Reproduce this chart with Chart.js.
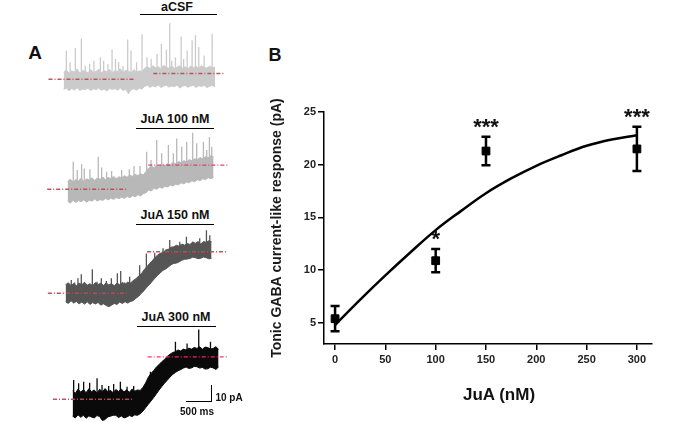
<!DOCTYPE html>
<html>
<head>
<meta charset="utf-8">
<script src="https://cdn.jsdelivr.net/npm/chart.js@4.4.1/dist/chart.umd.min.js"></script>
<style>
  body { margin:0; background:#fff; width:685px; height:422px; position:relative; overflow:hidden; font-family: Arial, "Liberation Sans", sans-serif; }
  canvas, .txt, .bar { position:absolute; }
  .txt { font-weight:bold; color:#111; white-space:nowrap; transform:translate(-50%,-50%); line-height:1; }
  .bar { height:0; border-top:1.5px solid #000; }
  .vbar { position:absolute; width:0; border-left:1.5px solid #000; }
</style>
</head>
<body>
<!-- panel A -->
<div class="txt" style="left:35px;top:52px;font-size:19px">A</div>
<div class="txt" style="left:177px;top:7px;font-size:12.5px">aCSF</div>
<div class="bar" style="left:140px;top:14px;width:77px"></div>
<div class="txt" style="left:175px;top:119px;font-size:12.5px">JuA 100 nM</div>
<div class="bar" style="left:136px;top:128px;width:78px"></div>
<div class="txt" style="left:175px;top:215px;font-size:12.5px">JuA 150 nM</div>
<div class="bar" style="left:136px;top:224px;width:78px"></div>
<div class="txt" style="left:176px;top:317px;font-size:12.5px">JuA 300 nM</div>
<div class="bar" style="left:137px;top:326px;width:79px"></div>

<canvas id="tr1" width="200" height="100" style="left:41.7px;top:2.7px"></canvas>
<canvas id="tr2" width="200" height="100" style="left:46.1px;top:113px"></canvas>
<canvas id="tr3" width="200" height="100" style="left:44.4px;top:217px"></canvas>
<canvas id="tr4" width="200" height="100" style="left:50.7px;top:323px"></canvas>

<!-- scale bar -->
<div class="vbar" style="left:211px;top:385px;height:17px"></div>
<div class="bar" style="left:186px;top:401px;width:26px"></div>
<div class="txt" style="left:229px;top:398px;font-size:10px">10 pA</div>
<div class="txt" style="left:197px;top:412px;font-size:10px">500 ms</div>

<!-- panel B -->
<div class="txt" style="left:275px;top:55px;font-size:18px">B</div>
<canvas id="chartB" width="445" height="382" style="left:240px;top:40px"></canvas>
<div class="txt" style="left:499px;top:394px;font-size:17px">JuA (nM)</div>

<script>
// Panel B: dose response
const doses = [0, 100, 150, 300];
const means = [5.4, 10.9, 21.3, 21.5];
const sems = [1.2, 1.1, 1.35, 2.1];
const stars = ['', '*', '***', '***'];
const curveX = [0, 25, 50, 75, 100, 125, 150, 175, 200, 225, 250, 275, 300];
const curveY = [4.8, 7.2, 9.5, 11.7, 13.8, 15.6, 17.3, 18.7, 19.9, 20.9, 21.8, 22.4, 22.8];
const xTicks = [0, 50, 100, 150, 200, 250, 300];
const yTicks = [5, 10, 15, 20, 25];

// Panel A: traces (time in ms, current in pA, envelope sampled every 50 ms)
const sampleTimes = [0, 50, 100, 150, 200, 250, 300, 350, 400, 450, 500, 550, 600, 650, 700, 750, 800, 850, 900, 950,
  1000, 1050, 1100, 1150, 1200, 1250, 1300, 1350, 1400, 1450, 1500, 1550, 1600, 1650, 1700, 1750, 1800, 1850, 1900, 1950,
  2000, 2050, 2100, 2150, 2200, 2250, 2300, 2350, 2400, 2450, 2500, 2550, 2600, 2650, 2700, 2750, 2800];

const acsfUpper = [4, 5.5, 3.5, 5, 4.2, 6, 3.6, 5.2, 4.8, 3.8, 5.6, 4.2, 4.6, 6, 3.9, 5, 4.4, 5.8, 3.7, 5.1,
  4.6, 6.2, 4, 5.3, 4.8, 3.9, 5.7, 4.3, 5, 4.5, 6.5, 7.5, 6.2, 8, 6.8, 7.4, 6, 8.2, 7, 6.5,
  7.8, 6.3, 7.2, 8, 6.6, 7.4, 6.1, 7.9, 6.8, 7.5, 6.3, 8.1, 7, 6.6, 7.7, 6.9, 7.2];
const acsfLower = [-6, -5.2, -6.8, -5.5, -6.3, -5, -6.6, -5.8, -6.1, -5.3, -6.7, -5.6, -6.2, -5.1, -6.5, -5.7, -6.9, -5.4, -6, -5.5,
  -6.4, -5.2, -6.6, -5.9, -8.5, -6.2, -5.6, -6.4, -5.3, -5.8, -4.2, -3.5, -4.8, -3.8, -4.5, -3.3, -4.9, -4, -3.6, -4.6,
  -3.9, -4.4, -3.4, -5.2, -4.1, -3.7, -4.7, -4, -3.5, -4.8, -3.8, -4.3, -3.6, -4.9, -4.1, -3.7, -4.4];
const acsfSpikes = [[50, 17], [120, 10], [217, 18.4], [328, 24], [400, 8], [482, 9.2], [560, 11], [680, 13], [741, 11], [820, 9], [896, 17.6],
  [960, 12], [1019, 10], [1100, 8], [1185, 23.4], [1247, 17], [1350, 10], [1451, 26.5], [1543, 13], [1620, 12], [1728, 15], [1809, 21],
  [1902, 17.5], [1963, 33], [2000, 11], [2069, 13], [2174, 25.3], [2220, 12], [2285, 17], [2377, 23], [2439, 25.9], [2500, 19], [2600, 14], [2748, 26.9]];

const ju100Upper = [4.5, 6, 4.2, 5.8, 5, 6.4, 4.6, 6.2, 5.4, 6.8, 5.2, 6.6, 5.9, 7.2, 5.6, 7, 6.3, 7.6, 6.2, 7.4,
  6.8, 8, 7.1, 8.4, 7.6, 8.8, 8, 9.2, 8.4, 10.5, 12.5, 13.6, 12.8, 14.2, 13.4, 14.8, 13.9, 15.2, 14.5, 15.8,
  15, 16.4, 15.6, 16.9, 16.2, 17.5, 16.8, 18, 17.4, 18.7, 18, 19.3, 18.6, 19.8, 19.2];
const ju100Lower = [-7, -8.2, -6.4, -7.8, -6.6, -7.4, -6.2, -7.6, -6.5, -7, -5.8, -6.9, -6, -6.6, -5.4, -6.3, -5.2, -6, -4.9, -5.6,
  -4.6, -5.4, -4.2, -5, -3.8, -4.5, -3.2, -3.9, -2.6, -2, -0.5, -1, 0.6, 0, 1.2, 0.6, 1.8, 1.3, 2.5, 1.9,
  3, 2.6, 3.8, 3.2, 4.3, 3.8, 5, 4.4, 5.6, 5, 6.2, 5.7, 6.8, 6.2, 7];
const ju100Spikes = [[104, 16.2], [178, 11.4], [259, 14.7], [308, 12.3], [413, 11.8], [567, 19.2], [629, 12.9], [722, 10.4], [814, 10.8],
  [1000, 11.4], [1141, 11.8], [1228, 13.7], [1339, 13.7], [1462, 22.1], [1543, 17.2], [1648, 29], [1740, 21.2], [1864, 26.1], [1956, 21.2],
  [2018, 30], [2111, 25.1], [2203, 28], [2314, 33.3], [2388, 27.1], [2512, 28], [2573, 23.1], [2623, 30.9], [2666, 25.1]];

const ju150Upper = [5, 6.2, 4.6, 5.8, 4.4, 6, 5, 6.5, 4.8, 5.6, 4.5, 6.3, 5.2, 5.9, 4.7, 6.1, 4.9, 5.7, 4.4, 6,
  5.1, 6.4, 5.3, 6.6, 6, 7.5, 8.5, 10.2, 11.5, 13.8, 15.5, 17.5, 19, 21, 22.5, 23.6, 24, 25.5, 26, 27.2,
  27.4, 28.3, 27.8, 29, 28.4, 29.4, 28.8, 30.2, 29.5, 30.5, 29, 30.6, 30, 31, 30.4];
const ju150Lower = [-5, -6, -4.4, -5.8, -4.8, -6.2, -5.2, -6.4, -5, -6.6, -5.5, -6.3, -5.4, -7, -6.2, -7.2, -7.9, -7, -6, -6.6,
  -5.2, -6, -5, -5.8, -4.8, -4.4, -3, -1.8, 0, 1.5, 3.5, 5, 7, 8.8, 10.5, 12, 13.5, 14.3, 15.5, 16.8,
  17.6, 17.8, 18.5, 19.5, 20, 20.2, 20.5, 21.3, 21, 20.4, 20.6, 21.4, 21, 20.3, 20.6];
const ju150Spikes = [[105, 7.8], [167, 6.3], [228, 8.8], [290, 11.2], [352, 5.5], [494, 14.1], [580, 6.8], [660, 8.8], [753, 7.2], [846, 8.8],
  [957, 11.8], [1019, 13.1], [1093, 6.3], [1185, 9.8], [1370, 16.6], [1494, 23.5], [1648, 23.9], [1802, 26.5], [1926, 31.4], [2019, 27.4],
  [2111, 30.4], [2235, 33.3], [2358, 30.4], [2481, 32.4], [2605, 37.2], [2667, 34.3]];

const ju300Upper = [5, 3.5, 6, 4.2, 5.8, 3.8, 6.2, 4.5, 5.5, 3.6, 5.9, 4.4, 6.3, 4.6, 5.2, 3.9, 5.8, 4.6, 6.1, 4.3,
  5.6, 4.1, 6, 4.8, 5.5, 5.2, 7, 9.6, 13, 15.2, 17, 19, 20.5, 22.2, 23.5, 25.3, 26.5, 27.6, 28, 29.1,
  28.5, 29.6, 29, 30.2, 29.5, 30.6, 30, 31, 29.5, 30.8, 30.5, 29.6, 30, 31, 29.5];
const ju300Lower = [-10, -11, -9.2, -10.6, -9.5, -11.2, -9.8, -10.5, -11, -9.6, -10.2, -12.5, -12, -10.4, -10, -9.4, -9.5, -10.8, -9.8, -11,
  -10.5, -9.6, -10.2, -9.2, -9.5, -8.5, -7, -5, -3, -1, 1, 3.2, 5.5, 7.5, 9.5, 11.2, 13, 14.6, 15.8, 16.8,
  17.5, 18.4, 19, 18.2, 18.5, 19.4, 19.2, 18.4, 18.8, 17.8, 18, 18.9, 18.5, 17.6, 19];
const ju300Spikes = [[19, 11.4], [111, 9.4], [204, 10.4], [315, 9.8], [452, 12.4], [544, 8.4], [667, 7.8], [759, 9], [883, 10.4], [1007, 7.4],
  [1130, 7.8], [1439, 16.2], [1624, 20.2], [1778, 25], [1902, 33.9], [2025, 27], [2117, 32.9], [2211, 30], [2333, 41.2], [2457, 30.9],
  [2550, 33.9], [2643, 29]];

// dashed baselines: [start, end] in ms and level in pA
const acsfRed = [[-280, 1330], [1660, 2960]];
const acsfRedLevel = [0, 3.4];
const ju100Red = [[-378, 1111], [1493, 2974]];
const ju100RedLevel = [0, 14.3];
const ju150Red = [[-328, 1154], [1506, 2976]];
const ju150RedLevel = [0, 24.5];
const ju300Red = [[-363, 1130], [1389, 2859]];
const ju300RedLevel = [0, 25];

const RED = 'rgba(232,52,92,0.95)';

function traceChart(id, color, upper, lower, spikes, redSpans, redLevels) {
  const spikePts = [];
  spikes.forEach(([t, peak]) => {
    const i = Math.min(upper.length - 1, Math.round(t / 50));
    spikePts.push({x: t, y: upper[i] - 1}, {x: t, y: peak}, {x: t, y: null});
  });
  const redSets = redSpans.map((span, k) => ({
    data: [{x: span[0], y: redLevels[k]}, {x: span[1], y: redLevels[k]}],
    borderColor: RED, borderWidth: 1.3, borderDash: [4, 2, 1, 2], fill: false
  }));
  new Chart(document.getElementById(id), {
    type: 'line',
    data: {
      datasets: [
        ...redSets,
        { data: spikePts, borderColor: color, borderWidth: 1.3, fill: false, spanGaps: false },
        { data: upper.map((v, i) => ({x: sampleTimes[i], y: v})), borderColor: color, backgroundColor: color, borderWidth: 1, fill: '+1' },
        { data: lower.map((v, i) => ({x: sampleTimes[i], y: v})), borderColor: color, borderWidth: 1, fill: false }
      ]
    },
    options: {
      responsive: false,
      animation: false,
      layout: { padding: 0 },
      elements: { point: { radius: 0 }, line: { tension: 0 } },
      plugins: { legend: { display: false }, tooltip: { enabled: false } },
      scales: {
        x: { type: 'linear', display: false, min: -400, max: 3300 },
        y: { display: false, min: -14, max: 45 }
      }
    }
  });
}

traceChart('tr1', '#cbcbcb', acsfUpper, acsfLower, acsfSpikes, acsfRed, acsfRedLevel);
traceChart('tr2', '#b8b8b8', ju100Upper, ju100Lower, ju100Spikes, ju100Red, ju100RedLevel);
traceChart('tr3', '#555555', ju150Upper, ju150Lower, ju150Spikes, ju150Red, ju150RedLevel);
traceChart('tr4', '#0a0a0a', ju300Upper, ju300Lower, ju300Spikes, ju300Red, ju300RedLevel);

// error bars + significance stars
const errorBars = {
  id: 'errorBars',
  afterDatasetsDraw(chart) {
    const {ctx, scales: {x, y}} = chart;
    ctx.save();
    ctx.strokeStyle = '#000';
    ctx.fillStyle = '#111';
    ctx.lineWidth = 2.5;
    doses.forEach((d, i) => {
      const px = x.getPixelForValue(d);
      const top = y.getPixelForValue(means[i] + sems[i]);
      const bot = y.getPixelForValue(means[i] - sems[i]);
      ctx.beginPath();
      ctx.moveTo(px, top); ctx.lineTo(px, bot);
      ctx.moveTo(px - 4.5, top); ctx.lineTo(px + 4.5, top);
      ctx.moveTo(px - 4.5, bot); ctx.lineTo(px + 4.5, bot);
      ctx.stroke();
      if (stars[i]) {
        ctx.font = 'bold 22px Arial, "Liberation Sans", sans-serif';
        ctx.textAlign = 'center';
        ctx.textBaseline = 'alphabetic';
        ctx.fillText(stars[i], px, top - 3);
      }
    });
    ctx.restore();
  }
};

const tickFont = { family: 'Arial, "Liberation Sans", sans-serif', size: 11, weight: 'bold' };

new Chart(document.getElementById('chartB'), {
  type: 'scatter',
  data: {
    datasets: [
      {
        type: 'line',
        data: curveX.map((v, i) => ({x: v, y: curveY[i]})),
        borderColor: '#000', borderWidth: 2.5, pointRadius: 0,
        tension: 0.4, fill: false
      },
      {
        data: doses.map((v, i) => ({x: v, y: means[i]})),
        pointStyle: 'rect', pointRadius: 5.5,
        backgroundColor: '#000', borderColor: '#000'
      }
    ]
  },
  options: {
    responsive: false,
    animation: false,
    layout: { padding: { left: 0, top: 72, right: 33, bottom: 38 } },
    plugins: { legend: { display: false }, tooltip: { enabled: false } },
    scales: {
      x: {
        type: 'linear', min: -11, max: 315,
        afterBuildTicks: s => { s.ticks = xTicks.map(v => ({value: v})); },
        afterFit: s => { s.height = 40; },
        grid: { drawOnChartArea: false, tickLength: 6, color: '#000', lineWidth: 1.5 },
        border: { color: '#000', width: 1.5 },
        ticks: { color: '#222', font: tickFont, padding: 3, maxRotation: 0 }
      },
      y: {
        min: 3, max: 25,
        afterBuildTicks: s => { s.ticks = yTicks.map(v => ({value: v})); },
        afterFit: s => { s.width = 84; },
        grid: { drawOnChartArea: false, tickLength: 6, color: '#000', lineWidth: 1.5 },
        border: { color: '#000', width: 1.5 },
        ticks: { color: '#222', font: tickFont, padding: 2 },
        title: {
          display: true,
          text: 'Tonic GABA current-like response (pA)',
          color: '#1a1a1a',
          font: { family: 'Arial, "Liberation Sans", sans-serif', size: 14, weight: 'bold' },
          padding: { top: 29, bottom: 0 }
        }
      }
    }
  },
  plugins: [errorBars]
});
</script>
</body>
</html>
